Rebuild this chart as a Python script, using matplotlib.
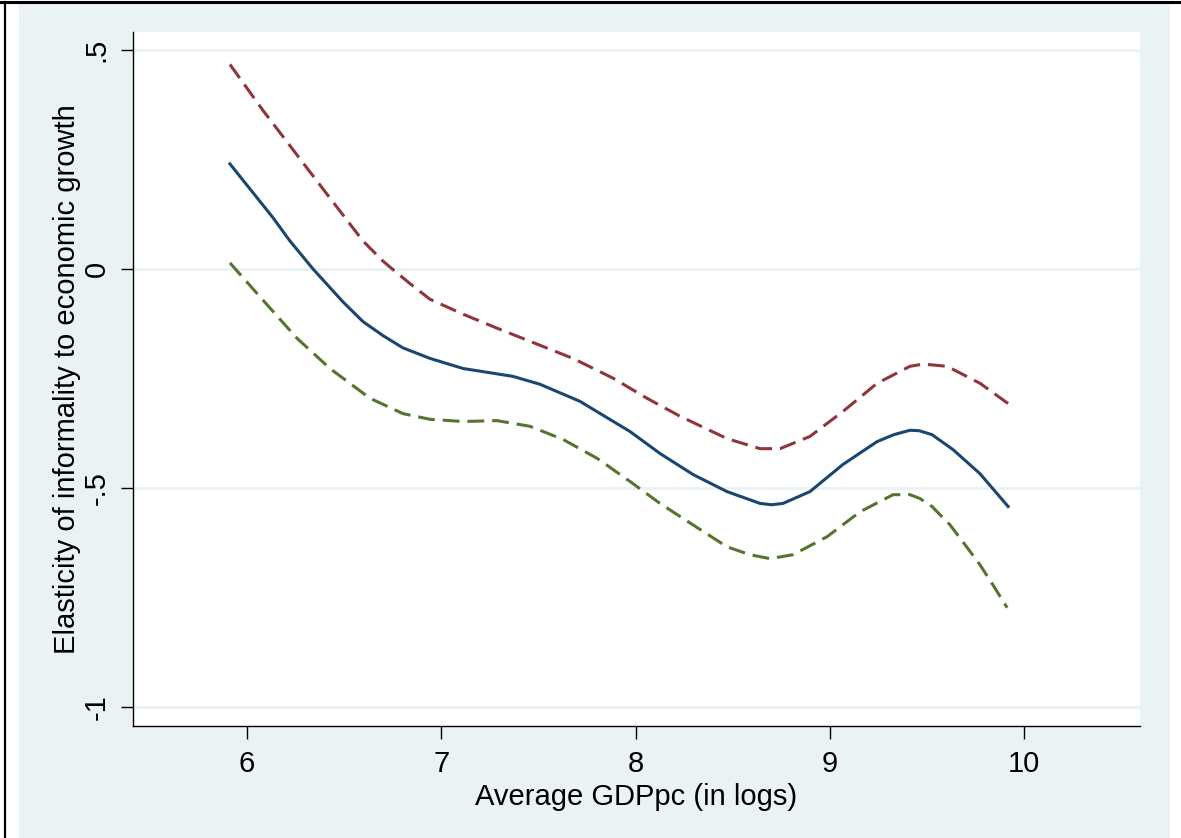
import matplotlib

matplotlib.use("Agg")

import matplotlib.pyplot as plt
from matplotlib.patches import Rectangle
from matplotlib.lines import Line2D

# fitted elasticity (solid)
fit_x = [5.912, 6.134, 6.221, 6.340, 6.494, 6.597, 6.700, 6.803, 6.942,
         7.112, 7.369, 7.508, 7.714, 7.972, 8.126, 8.296, 8.471, 8.641,
         8.700, 8.759, 8.898, 9.068, 9.243, 9.330, 9.413, 9.460, 9.526,
         9.634, 9.773, 9.918]
fit_y = [0.240, 0.117, 0.064, 0.000, -0.075, -0.120, -0.152, -0.180, -0.204,
         -0.227, -0.245, -0.263, -0.302, -0.371, -0.421, -0.469, -0.508,
         -0.535, -0.538, -0.535, -0.508, -0.446, -0.394, -0.378, -0.368,
         -0.369, -0.378, -0.412, -0.467, -0.542]

# upper confidence band (maroon dashed)
upper_x = [5.912, 6.082, 6.427, 6.597, 6.700, 6.772, 6.855, 6.942, 7.112,
           7.287, 7.457, 7.678, 7.884, 8.059, 8.229, 8.471, 8.641, 8.744,
           8.898, 9.068, 9.243, 9.413, 9.480, 9.604, 9.774, 9.918]
upper_y = [0.467, 0.362, 0.162, 0.064, 0.018, -0.009, -0.039, -0.069, -0.103,
           -0.135, -0.165, -0.204, -0.249, -0.295, -0.336, -0.387, -0.410,
           -0.410, -0.382, -0.325, -0.261, -0.222, -0.217, -0.222, -0.261,
           -0.307]

# lower confidence band (green dashed)
lower_x = [5.912, 6.082, 6.257, 6.427, 6.633, 6.803, 6.942, 7.112, 7.287,
           7.457, 7.627, 7.802, 7.972, 8.126, 8.296, 8.471, 8.589, 8.692,
           8.811, 8.986, 9.156, 9.326, 9.413, 9.465, 9.526, 9.619, 9.696,
           9.773, 9.840, 9.913]
lower_y = [0.014, -0.071, -0.158, -0.227, -0.295, -0.330, -0.343, -0.348,
           -0.346, -0.359, -0.389, -0.432, -0.485, -0.535, -0.584, -0.634,
           -0.652, -0.661, -0.652, -0.611, -0.554, -0.515, -0.515, -0.524,
           -0.542, -0.584, -0.629, -0.675, -0.721, -0.773]

x_ticks = [6, 7, 8, 9, 10]
y_ticks = [-1, -0.5, 0, 0.5]
y_tick_labels = ["-1", "-.5", "0", ".5"]

BG = "#EAF2F3"
NAVY = "#1A476F"
MAROON = "#90353B"
GREEN = "#55752F"

plt.rcParams["font.family"] = ["Liberation Sans", "DejaVu Sans"]

W, H = 1181, 838
fig = plt.figure(figsize=(W / 100, H / 100), dpi=100)
fig.patch.set_facecolor("white")

# Stata-like outer graph region plus the cropped frame lines
fig.add_artist(Rectangle((19 / W, 0), (1170 - 19) / W, (H - 4) / H,
                         transform=fig.transFigure, facecolor=BG,
                         edgecolor="none", zorder=0))
fig.add_artist(Line2D([0, 1], [1 - 2 / H, 1 - 2 / H], transform=fig.transFigure,
                      color="black", lw=2.2))
fig.add_artist(Line2D([5 / W, 5 / W], [0, 1 - 2 / H], transform=fig.transFigure,
                      color="black", lw=1.6))

ax = fig.add_axes([133 / W, (H - 726) / H, (1140 - 133) / W, (726 - 32) / H])
ax.set_facecolor("white")

ax.plot(fit_x, fit_y, color=NAVY, lw=2.2, solid_joinstyle="round")
ax.plot(upper_x, upper_y, color=MAROON, lw=2.2, dashes=(5.5, 2.6))
ax.plot(lower_x, lower_y, color=GREEN, lw=2.2, dashes=(5.5, 2.6))

ax.set_xlim(5.413, 10.597)
ax.set_ylim(-1.043, 0.541)

ax.set_xticks(x_ticks)
ax.set_yticks(y_ticks)
ax.set_yticklabels(y_tick_labels, rotation=90, va="center")
ax.tick_params(direction="out", length=9, width=1.0, labelsize=21, pad=7)
ax.tick_params(axis="x", pad=8)

ax.grid(axis="y", color=BG, lw=2.0)
ax.set_axisbelow(True)
for side in ("top", "right"):
    ax.spines[side].set_visible(False)
for side in ("left", "bottom"):
    ax.spines[side].set_linewidth(1.0)

ax.set_xlabel("Average GDPpc (in logs)", fontsize=21, labelpad=4)
ax.set_ylabel("Elasticity of informality to economic growth", fontsize=21,
              labelpad=1)

fig.savefig("out.png", dpi=100, facecolor=fig.get_facecolor())
